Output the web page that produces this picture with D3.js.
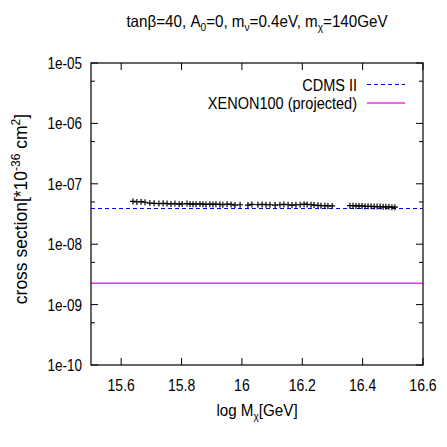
<!DOCTYPE html>
<html>
<head>
<meta charset="utf-8">
<script src="https://d3js.org/d3.v7.min.js"></script>
<style>
  body { margin: 0; background: #fff; }
  text { font-family: "Liberation Sans", Arial, sans-serif; fill: #000; }
</style>
</head>
<body>
<svg id="chart"></svg>
<script>
// chart data
const massLog = [
  15.639, 15.652, 15.666, 15.679,
  15.695, 15.709,
  15.725, 15.739, 15.752, 15.765, 15.778, 15.792, 15.802,
  15.818, 15.828, 15.838, 15.848, 15.861, 15.871, 15.881, 15.894, 15.904, 15.914, 15.927, 15.937, 15.951, 15.964,
  15.977, 15.994,
  16.020, 16.033,
  16.053, 16.067, 16.080, 16.093, 16.110,
  16.126, 16.139, 16.153, 16.166, 16.179, 16.193,
  16.206, 16.216, 16.229, 16.239, 16.252, 16.262, 16.275, 16.285, 16.299,
  16.358, 16.368, 16.378, 16.388, 16.398, 16.408, 16.418, 16.428, 16.438, 16.448, 16.458, 16.468, 16.477, 16.487, 16.497, 16.507
];
const crossSection = [
  5.1e-8, 5.0e-8, 5.05e-8, 4.95e-8,
  4.8e-8, 4.75e-8,
  4.7e-8, 4.75e-8, 4.7e-8, 4.65e-8, 4.7e-8, 4.6e-8, 4.65e-8,
  4.7e-8, 4.65e-8, 4.6e-8, 4.6e-8, 4.65e-8, 4.6e-8, 4.55e-8, 4.6e-8, 4.55e-8, 4.6e-8, 4.55e-8, 4.5e-8, 4.6e-8, 4.55e-8,
  4.45e-8, 4.5e-8,
  4.45e-8, 4.55e-8,
  4.5e-8, 4.55e-8, 4.5e-8, 4.5e-8, 4.45e-8,
  4.5e-8, 4.55e-8, 4.5e-8, 4.45e-8, 4.5e-8, 4.5e-8,
  4.6e-8, 4.55e-8, 4.5e-8, 4.45e-8, 4.4e-8, 4.35e-8, 4.35e-8, 4.3e-8, 4.3e-8,
  4.35e-8, 4.35e-8, 4.3e-8, 4.3e-8, 4.3e-8, 4.25e-8, 4.25e-8, 4.25e-8, 4.2e-8, 4.2e-8, 4.2e-8, 4.15e-8, 4.15e-8, 4.15e-8, 4.1e-8, 4.1e-8
];
const cdmsLimit = 4.0e-8;
const xenonLimit = 2.25e-9;
const xTicks = [15.6, 15.8, 16, 16.2, 16.4, 16.6];
const yTicks = [1e-10, 1e-9, 1e-8, 1e-7, 1e-6, 1e-5];
const yTickLabels = ["1e-10", "1e-09", "1e-08", "1e-07", "1e-06", "1e-05"];
const yMinorTicks = [5e-10, 5e-9, 5e-8, 5e-7, 5e-6];

const width = 447, height = 447;
const margin = {left: 91, right: 24, top: 63, bottom: 82};

const svg = d3.select("#chart").attr("width", width).attr("height", height);

const x = d3.scaleLinear().domain([15.5, 16.6]).range([margin.left, width - margin.right]);
const y = d3.scaleLog().domain([1e-10, 1e-5]).range([height - margin.bottom, margin.top]);

const x0 = margin.left, x1 = width - margin.right;
const y0 = height - margin.bottom, y1 = margin.top;

// condensed text, like gnuplot's narrow helvetica
function label(px, py, size, sx, anchor) {
  return svg.append("text")
    .attr("transform", `translate(${px},${py}) scale(${sx},1)`)
    .attr("text-anchor", anchor).attr("font-size", size);
}

// ticks (mirrored on all four sides)
const tickG = svg.append("g").attr("stroke", "#000").attr("stroke-width", 1);
xTicks.forEach(t => {
  tickG.append("line").attr("x1", x(t)).attr("x2", x(t)).attr("y1", y0).attr("y2", y0 - 7);
  tickG.append("line").attr("x1", x(t)).attr("x2", x(t)).attr("y1", y1).attr("y2", y1 + 7);
});
yTicks.forEach(t => {
  tickG.append("line").attr("x1", x0).attr("x2", x0 + 7).attr("y1", y(t)).attr("y2", y(t));
  tickG.append("line").attr("x1", x1).attr("x2", x1 - 7).attr("y1", y(t)).attr("y2", y(t));
});
yMinorTicks.forEach(t => {
  tickG.append("line").attr("x1", x0).attr("x2", x0 + 4).attr("y1", y(t)).attr("y2", y(t));
  tickG.append("line").attr("x1", x1).attr("x2", x1 - 4).attr("y1", y(t)).attr("y2", y(t));
});

// tick labels
xTicks.forEach(t => {
  label(x(t), y0 + 26, 16.5, 0.85, "middle").text(d3.format("")(t));
});
yTicks.forEach((t, i) => {
  label(x0 - 9, y(t) + 6, 16.5, 0.82, "end").text(yTickLabels[i]);
});

// limit lines
svg.append("line")
  .attr("x1", x0).attr("x2", x1).attr("y1", Math.round(y(cdmsLimit)) + 0.5).attr("y2", Math.round(y(cdmsLimit)) + 0.5)
  .attr("stroke", "#0000e8").attr("stroke-width", 1).attr("stroke-dasharray", "4,3");
svg.append("line")
  .attr("x1", x0).attr("x2", x1).attr("y1", y(xenonLimit)).attr("y2", y(xenonLimit))
  .attr("stroke", "#ee30ee").attr("stroke-width", 1.5);

// data points as "+"
const pts = massLog.map((m, i) => [m, crossSection[i]]);
svg.append("g").selectAll("path").data(pts).join("path")
  .attr("transform", d => `translate(${x(d[0])},${y(d[1])})`)
  .attr("d", "M-3,0H3M0,-3V3")
  .attr("stroke", "#000").attr("stroke-width", 1.2).attr("fill", "none");

// frame
svg.append("rect")
  .attr("x", x0).attr("y", y1).attr("width", x1 - x0).attr("height", y0 - y1)
  .attr("fill", "none").attr("stroke", "#000").attr("stroke-width", 1.2);

// legend
const legend = [
  {label: "CDMS II", color: "#0000e8", dash: "4,3", w: 1, yy: 84.5},
  {label: "XENON100 (projected)", color: "#ee30ee", dash: null, w: 1.5, yy: 103}
];
legend.forEach(l => {
  label(357, l.yy + 6, 16.5, 0.88, "end").text(l.label);
  svg.append("line").attr("x1", 367).attr("x2", 405).attr("y1", l.yy).attr("y2", l.yy)
    .attr("stroke", l.color).attr("stroke-width", l.w).attr("stroke-dasharray", l.dash);
});

// title
const title = label((x0 + x1) / 2, 27, 16.5, 0.92, "middle");
title.append("tspan").text("tanβ=40, A");
title.append("tspan").attr("font-size", 11).attr("dy", 4).text("0");
title.append("tspan").attr("dy", -4).text("=0, m");
title.append("tspan").attr("font-size", 11).attr("dy", 4).text("ν");
title.append("tspan").attr("dy", -4).text("=0.4eV, m");
title.append("tspan").attr("font-size", 11).attr("dy", 4).text("χ");
title.append("tspan").attr("dy", -4).text("=140GeV");

// x label
const xl = label((x0 + x1) / 2, 416, 16.5, 0.92, "middle");
xl.append("tspan").text("log M");
xl.append("tspan").attr("font-size", 11).attr("dy", 4).text("χ");
xl.append("tspan").attr("dy", -4).text("[GeV]");

// y label
const yl = svg.append("text")
  .attr("transform", `translate(27,209) rotate(-90)`)
  .attr("text-anchor", "middle").attr("font-size", 17.5);
yl.append("tspan").text("cross section[*10");
yl.append("tspan").attr("font-size", 12).attr("dy", -7).text("-36");
yl.append("tspan").attr("dy", 7).text(" cm");
yl.append("tspan").attr("font-size", 12).attr("dy", -7).text("2");
yl.append("tspan").attr("dy", 7).text("]");
</script>
</body>
</html>
